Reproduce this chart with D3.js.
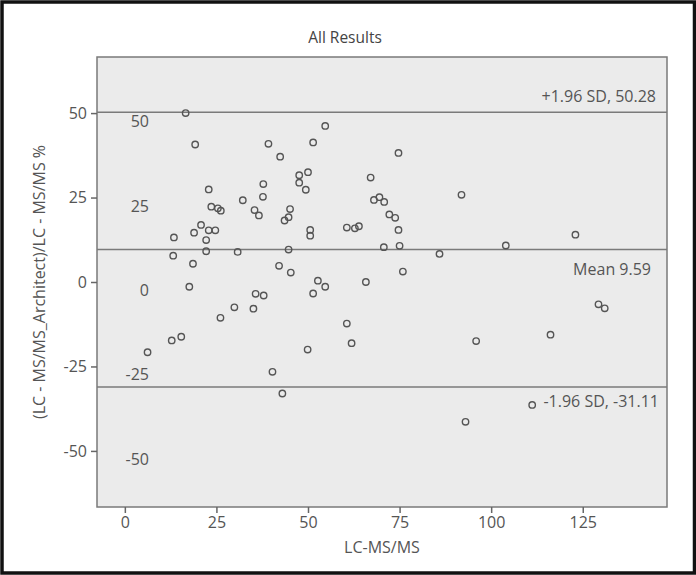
<!DOCTYPE html>
<html>
<head>
    <meta charset="utf-8">
    <title>All Results</title>
    <script src="https://d3js.org/d3.v7.min.js"></script>
    <style>
      body { margin: 0; background: #fff; }
      text { font-family: "Open Sans", Lato, sans-serif; fill: #555; }
    </style>
</head>
<body>
<div id="chart"></div>
<script type="text/javascript">
    // valores (LC-MS/MS vs diferenca %)
    let xVals = [16.6, 19.2, 22.9, 23.6, 25.4, 26.2, 32.2, 13.4, 18.9, 20.8,
                 22.9, 24.7, 22.2, 13.2, 22.2, 30.8, 18.6, 17.6, 29.9, 26.1,
                 12.8, 15.4, 6.2, 39.2, 42.4, 54.7, 51.4, 37.8, 37.7, 47.6,
                 50.0, 47.6, 49.4, 67.1, 74.7, 91.9, 35.4, 36.6, 45.1, 44.7,
                 43.6, 50.6, 50.6, 60.6, 62.8, 63.9, 68.0, 69.5, 70.8, 72.2,
                 73.8, 74.7, 75.0, 70.7, 44.7, 85.9, 42.1, 45.3, 75.9, 52.7,
                 54.7, 65.8, 51.4, 35.7, 37.9, 35.1, 60.6, 40.3, 43.0, 49.9,
                 61.9, 95.9, 93.0, 104.0, 123.0, 129.3, 131.0, 116.2, 111.2];
    let yVals = [50.0, 40.7, 27.4, 22.3, 21.8, 21.1, 24.2, 13.2, 14.6, 16.9,
                 15.3, 15.3, 12.4, 7.8, 9.1, 8.9, 5.4, -1.4, -7.5, -10.6,
                 -17.3, -16.2, -20.8, 40.9, 37.1, 46.2, 41.3, 29.0, 25.2, 31.6,
                 32.5, 29.4, 27.3, 30.9, 38.2, 25.8, 21.3, 19.7, 21.6, 19.2,
                 18.2, 15.4, 13.7, 16.1, 15.9, 16.5, 24.3, 25.1, 23.7, 20.0,
                 19.0, 15.4, 10.7, 10.3, 9.6, 8.3, 4.8, 2.8, 3.1, 0.4,
                 -1.4, 0.0, -3.4, -3.5, -4.0, -7.9, -12.3, -26.6, -33.0, -20.0,
                 -18.1, -17.5, -41.4, 10.8, 14.0, -6.6, -7.8, -15.6, -36.4];

    let xTicks = [0, 25, 50, 75, 100, 125];
    let yTicks = [-50, -25, 0, 25, 50];

    let refValues = [50.28, 9.59, -31.11];
    let refLabels = ["+1.96 SD, 50.28", "Mean 9.59", "-1.96 SD, -31.11"];

    let W = 696, H = 575;
    let margin = {top: 57, right: 29, bottom: 68, left: 97};
    let w = W - margin.left - margin.right;
    let h = H - margin.top - margin.bottom;

    let root = d3.select("#chart")
            .append("svg")
                .attr("width", W)
                .attr("height", H);

    // moldura externa
    root.append("rect")
        .attr("x", 2).attr("y", 2)
        .attr("width", 692.5).attr("height", 571)
        .attr("fill", "none")
        .attr("stroke", "#111")
        .attr("stroke-width", 3.5);

    root.append("text")
        .attr("x", 345)
        .attr("y", 43)
        .attr("text-anchor", "middle")
        .attr("font-size", "15.5px")
        .style("fill", "#444")
        .text("All Results");

    let svg = root.append("g")
            .attr("transform", "translate(" + margin.left + "," + margin.top + ")");

    let xScale = d3.scaleLinear().domain([-7.6, 148]).range([0, w]);
    let yScale = d3.scaleLinear().domain([-66.6, 66.6]).range([h, 0]);

    svg.append("rect")
        .attr("width", w).attr("height", h)
        .attr("fill", "#ebebeb")
        .attr("stroke", "#7a7a7a")
        .attr("stroke-width", 1.5);

    let xAxis = d3.axisBottom(xScale).tickValues(xTicks).tickSize(6).tickPadding(4)
                  .tickFormat(d => String(d));
    let yAxis = d3.axisLeft(yScale).tickValues(yTicks).tickSize(6).tickPadding(4)
                  .tickFormat(d => String(d));

    let gx = svg.append("g")
        .attr("transform", "translate(0," + h + ")")
        .call(xAxis);
    let gy = svg.append("g").call(yAxis);

    [gx, gy].forEach(g => {
      g.select(".domain").remove();
      g.selectAll("line").attr("stroke", "#666").attr("stroke-width", 1.5);
      g.selectAll("text")
        .attr("font-family", "'Open Sans', Lato, sans-serif")
        .attr("font-size", "16px")
        .style("fill", "#555");
    });

    // rotulos repetidos dentro da area
    svg.selectAll(".ghost")
        .data(yTicks)
        .enter()
        .append("text")
            .attr("class", "ghost")
            .attr("x", 52)
            .attr("y", d => yScale(d) + 14)
            .attr("text-anchor", "end")
            .attr("font-size", "16px")
            .text(d => String(d));

    // linhas de referencia
    svg.selectAll(".ref")
        .data(refValues)
        .enter()
        .append("line")
            .attr("class", "ref")
            .attr("x1", 0).attr("x2", w)
            .attr("y1", d => yScale(d)).attr("y2", d => yScale(d))
            .attr("stroke", "#7a7a7a")
            .attr("stroke-width", 1.5);

    let labelOffsets = [-10, 25, 20];
    let labelRight = [559, 554, 562];
    svg.selectAll(".refLabel")
        .data(refLabels)
        .enter()
        .append("text")
            .attr("class", "refLabel")
            .attr("x", (d, i) => labelRight[i])
            .attr("y", (d, i) => yScale(refValues[i]) + labelOffsets[i])
            .attr("text-anchor", "end")
            .attr("font-size", "16px")
            .text(d => d);

    svg.selectAll("circle")
        .data(xVals.map((x, i) => [x, yVals[i]]))
        .enter()
        .append("circle")
            .attr("cx", d => xScale(d[0]))
            .attr("cy", d => yScale(d[1]))
            .attr("r", 3.2)
            .attr("fill", "none")
            .attr("stroke", "#555")
            .attr("stroke-width", 1.4);

    svg.append("text")
        .attr("x", w / 2)
        .attr("y", h + 46)
        .attr("text-anchor", "middle")
        .attr("font-size", "16px")
        .text("LC-MS/MS");

    svg.append("text")
        .attr("transform", "rotate(-90)")
        .attr("x", -(yScale(0)))
        .attr("y", -52)
        .attr("text-anchor", "middle")
        .attr("font-size", "16px")
        .text("(LC - MS/MS_Architect)/LC - MS/MS %");
</script>
</body>
</html>
